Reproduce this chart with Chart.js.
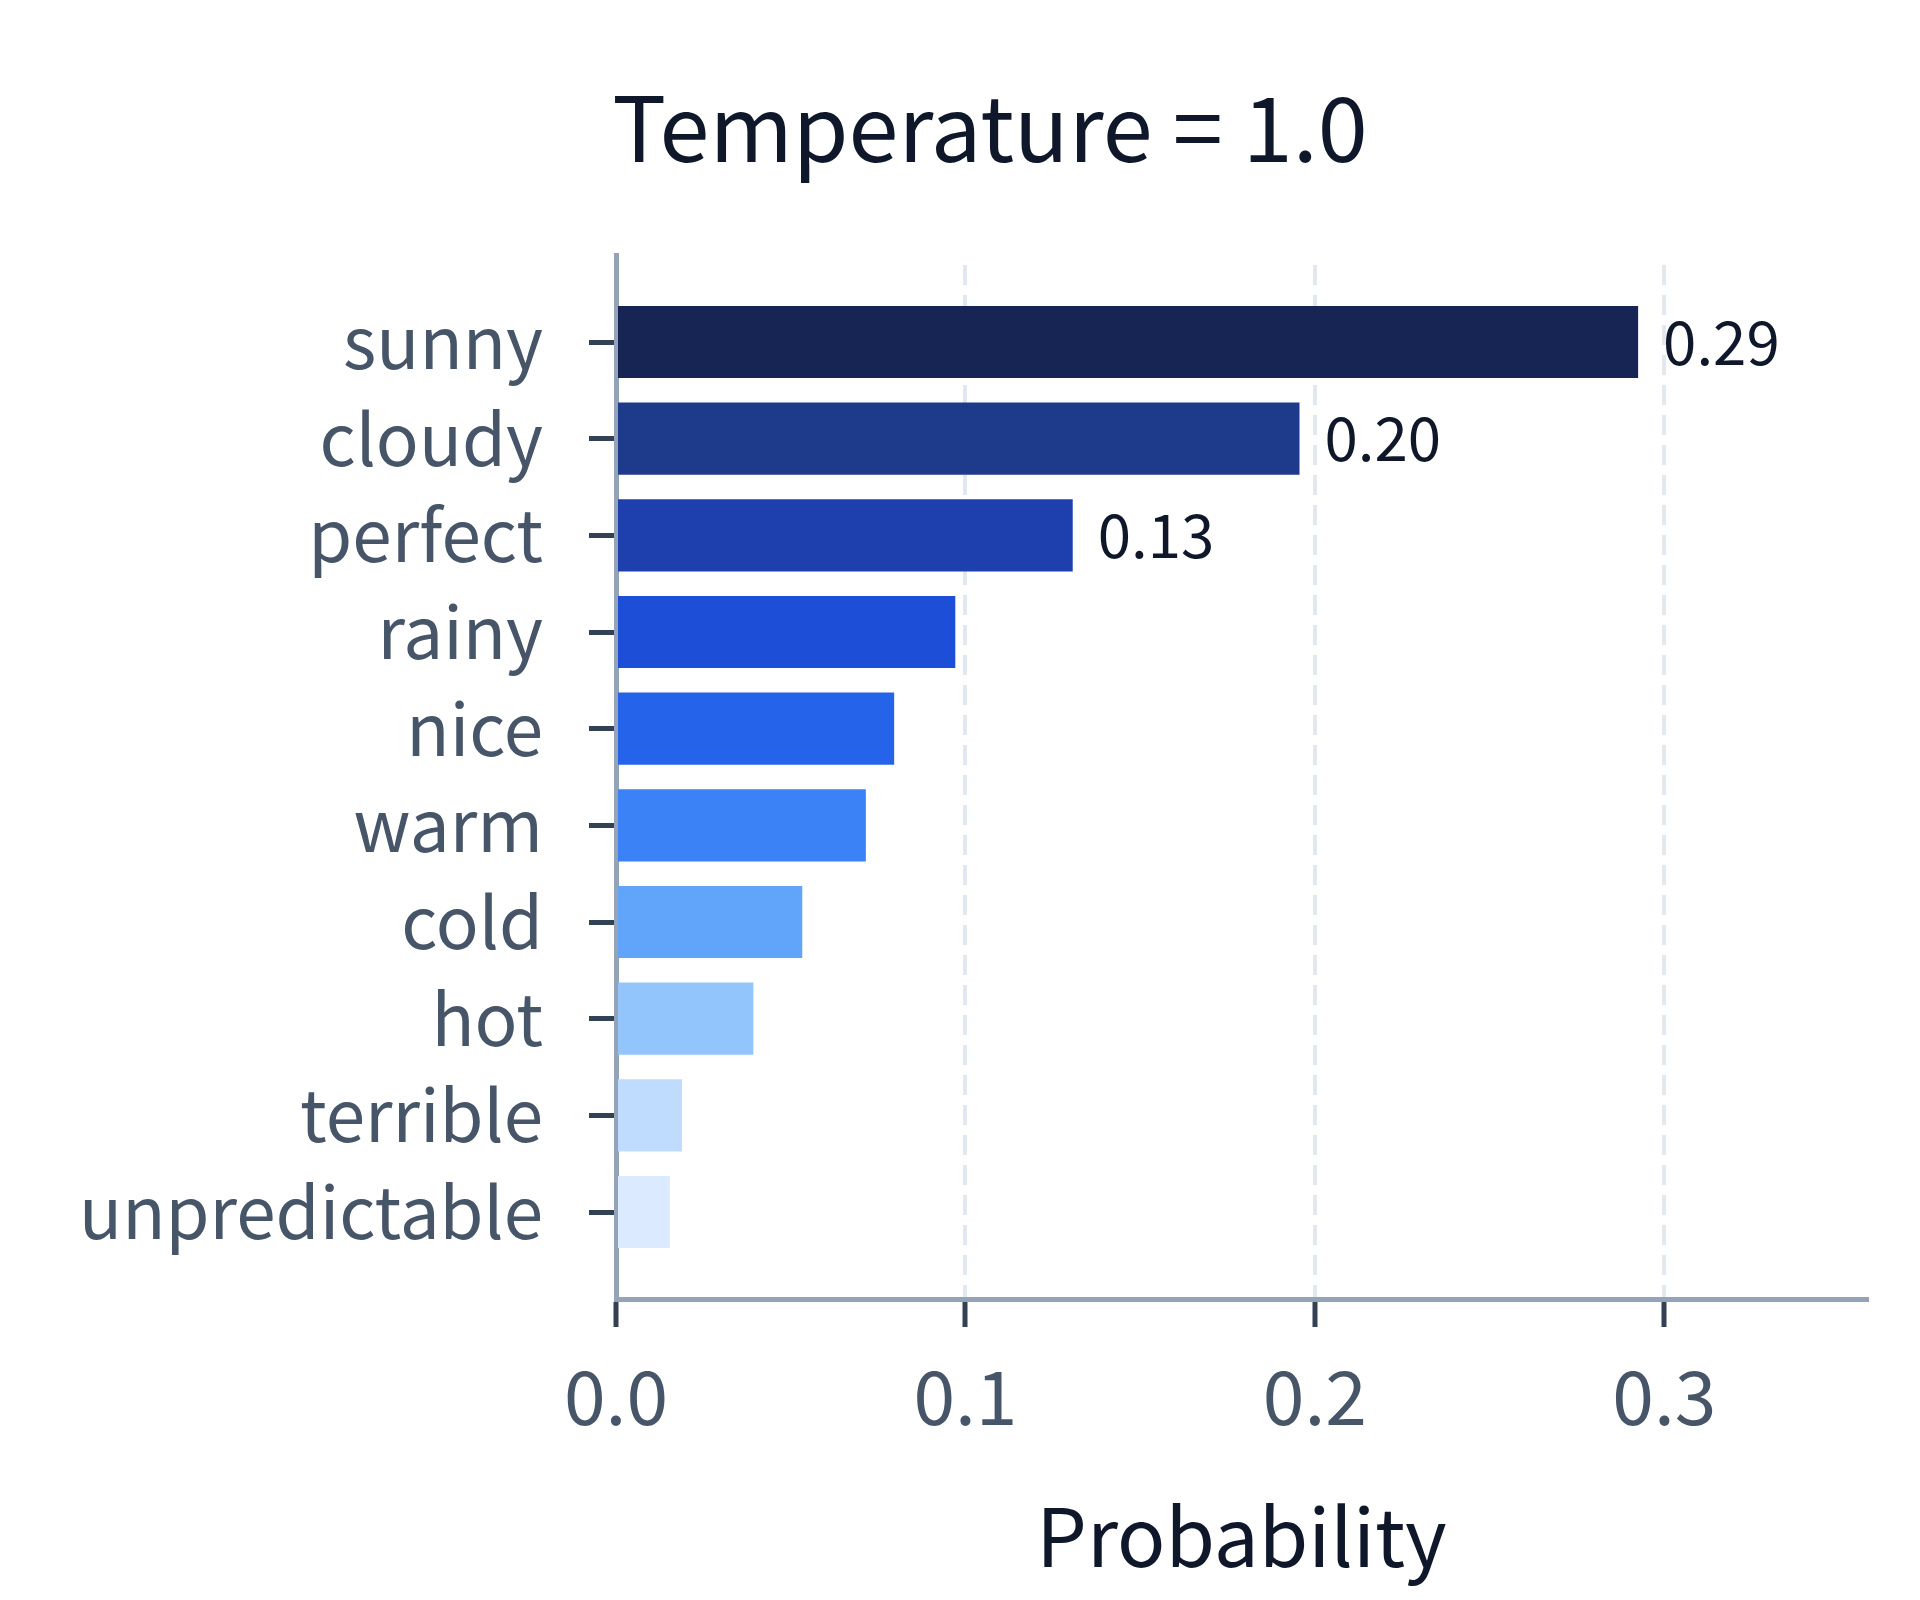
<!DOCTYPE html>
<html>
<head>
<meta charset="utf-8">
<script src="https://cdn.jsdelivr.net/npm/chart.js@4"></script>
<style>
  html, body { margin: 0; padding: 0; background: #ffffff; }
  canvas { display: block; }
</style>
</head>
<body>
<canvas id="c" width="1920" height="1600"></canvas>
<script>
// ---- data ----
const categories = ['sunny', 'cloudy', 'perfect', 'rainy', 'nice', 'warm', 'cold', 'hot', 'terrible', 'unpredictable'];
const probabilities = [0.2925, 0.1956, 0.1307, 0.0971, 0.0796, 0.0715, 0.0533, 0.0393, 0.0189, 0.0154];
const barColors = ['#172554', '#1e3a8a', '#1e40af', '#1d4ed8', '#2563eb', '#3b82f6', '#60a5fa', '#93c5fd', '#bfdbfe', '#dbeafe'];
const xTickValues = [0, 0.1, 0.2, 0.3];
const titleText = 'Temperature = 1.0';
const xAxisTitle = 'Probability';
const labelThreshold = 0.1;

const FONT = '"Noto Sans CJK KR", "Noto Sans", sans-serif';

const valueLabels = {
  id: 'valueLabels',
  afterDatasetsDraw(chart) {
    const ctx = chart.ctx;
    const meta = chart.getDatasetMeta(0);
    ctx.save();
    ctx.font = '60px ' + FONT;
    ctx.fillStyle = '#0f172a';
    ctx.textAlign = 'left';
    ctx.textBaseline = 'middle';
    meta.data.forEach((bar, i) => {
      const v = probabilities[i];
      if (v >= labelThreshold) ctx.fillText(v.toFixed(2), bar.x + 25, bar.y);
    });
    ctx.restore();
  }
};

// centre the title where the reference has it (slightly right of the canvas centre)
const titleShift = {
  id: 'titleShift',
  afterLayout(chart) {
    const t = chart.titleBlock;
    if (!t) return;
    const d = 990 - (t.left + t.right) / 2;
    t.left += d;
    t.right += d;
  }
};

new Chart(document.getElementById('c'), {
  type: 'bar',
  data: {
    datasets: [{
      data: probabilities.map((v, i) => ({ x: v, y: i })),
      backgroundColor: barColors,
      borderWidth: 0,
      categoryPercentage: 0.8,
      barPercentage: 0.933
    }]
  },
  options: {
    indexAxis: 'y',
    responsive: false,
    animation: false,
    devicePixelRatio: 1,
    layout: { padding: { left: 40, right: 53, top: 0, bottom: 0 } },
    plugins: {
      legend: { display: false },
      tooltip: { enabled: false },
      title: {
        display: true,
        text: titleText,
        color: '#0f172a',
        font: { family: FONT, size: 90, weight: 'normal' },
        padding: { top: 74, bottom: 73 }
      }
    },
    scales: {
      x: {
        type: 'linear',
        position: 'bottom',
        min: 0,
        max: 0.358,
        afterBuildTicks: s => { s.ticks = xTickValues.map(v => ({ value: v })); },
        afterFit: s => { s.height = 301; },
        ticks: {
          color: '#475569',
          font: { family: FONT, size: 75 },
          padding: 24,
          callback: v => Number(v).toFixed(1)
        },
        grid: {
          color: c => (c.tick && c.tick.value === 0) ? 'rgba(0,0,0,0)' : '#e2e8f0',
          lineWidth: 4,
          drawTicks: true,
          tickLength: 28,
          tickColor: '#334155',
          tickWidth: 5
        },
        border: { display: true, color: '#94a3b8', width: 5, dash: [20, 10], dashOffset: 20 },
        title: {
          display: true,
          text: xAxisTitle,
          color: '#0f172a',
          font: { family: FONT, size: 80 },
          padding: { top: 0, bottom: 15 }
        }
      },
      y: {
        type: 'linear',
        min: -0.9,
        max: 9.9,
        reverse: true,
        offset: false,
        z: 1,
        afterBuildTicks: s => { s.ticks = categories.map((c, i) => ({ value: i })); },
        afterFit: s => { s.width = 576; },
        ticks: {
          color: '#475569',
          font: { family: FONT, size: 71 },
          padding: 46,
          callback: v => categories[v]
        },
        grid: {
          offset: false,
          drawOnChartArea: false,
          drawTicks: true,
          tickLength: 27,
          tickColor: '#334155',
          tickWidth: 5
        },
        border: { display: true, color: '#94a3b8', width: 5 }
      }
    }
  },
  plugins: [valueLabels, titleShift]
});
</script>
</body>
</html>
